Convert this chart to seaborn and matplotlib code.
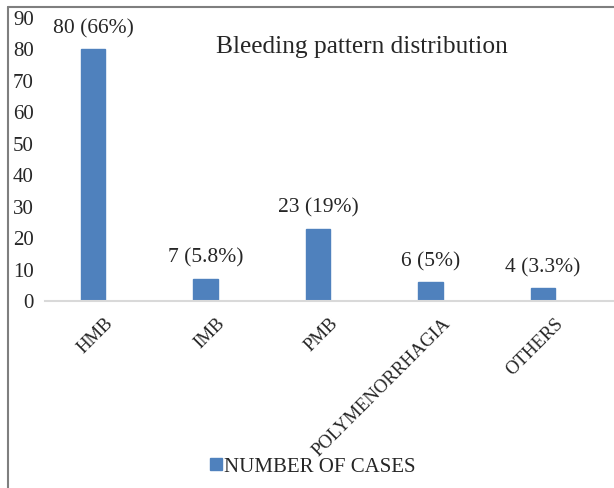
import matplotlib
matplotlib.use("Agg")
import matplotlib.pyplot as plt
import matplotlib.transforms as mtransforms
import seaborn as sns
import pandas as pd
from matplotlib.lines import Line2D

categories = ["HMB", "IMB", "PMB", "POLYMENORRHAGIA", "OTHERS"]
cases = [80, 7, 23, 6, 4]
bar_labels = ["80 (66%)", "7 (5.8%)", "23 (19%)", "6 (5%)", "4 (3.3%)"]
yticks = [0, 10, 20, 30, 40, 50, 60, 70, 80, 90]
title = "Bleeding pattern distribution"
series_name = "NUMBER OF CASES"

sns.set_style("white")
plt.rcParams['font.family'] = ['Liberation Serif', 'DejaVu Serif']

df = pd.DataFrame({"cat": categories, "val": cases})

W, H = 614, 488
fig = plt.figure(figsize=(W / 100, H / 100), dpi=100)
ax = fig.add_axes([45 / W, 1 - 301 / H, (614 - 45) / W, (301 - 18) / H])

bar_color = "#4F81BD"
sns.barplot(data=df, x="cat", y="val", color=bar_color, width=0.22, ax=ax,
            saturation=1, edgecolor=bar_color)

ppu = 112.5
ax.set_xlim((45 - 93) / ppu, (614 - 93) / ppu)
ax.set_ylim(0, 90)
ax.set_yticks(yticks)
ax.set_yticklabels([str(t) for t in yticks], fontsize=15)
ax.tick_params(axis='y', length=0, pad=8)
ax.tick_params(axis='x', length=0, pad=4)
ax.set_xticks(range(len(categories)))
ax.set_xticklabels(categories, rotation=45, ha='right', rotation_mode='anchor',
                   fontsize=13.5)
offset = mtransforms.ScaledTranslation(8 / 72, -6 / 72, fig.dpi_scale_trans)
for lab in ax.get_xticklabels():
    lab.set_transform(lab.get_transform() + offset)
ax.set_xlabel("")
ax.set_ylabel("")
for s in ["top", "right", "left"]:
    ax.spines[s].set_visible(False)
ax.spines["bottom"].set_color("#D9D9D9")
ax.spines["bottom"].set_linewidth(1.5)

for i, (v, t) in enumerate(zip(cases, bar_labels)):
    ax.annotate(t, (i, v), xytext=(0, 8), textcoords="offset points",
                ha="center", va="bottom", fontsize=15.5)

fig.text(362 / W, 1 - 47 / H, title, ha="center", va="center", fontsize=18.3)

handle = Line2D([], [], marker="s", linestyle="none", markersize=8,
                markerfacecolor=bar_color, markeredgecolor=bar_color)
fig.legend([handle], [series_name], loc="center", bbox_to_anchor=(312 / W, 1 - 467 / H),
           frameon=False, fontsize=15, handletextpad=0.05, borderpad=0, handlelength=0.7)

fig.add_artist(Line2D([8 / W, 1.0], [1 - 7 / H, 1 - 7 / H], transform=fig.transFigure,
                      color="#7F7F7F", linewidth=1.5))
fig.add_artist(Line2D([8 / W, 8 / W], [0, 1 - 7 / H], transform=fig.transFigure,
                      color="#7F7F7F", linewidth=1.5))

fig.savefig("out.png", dpi=100)
